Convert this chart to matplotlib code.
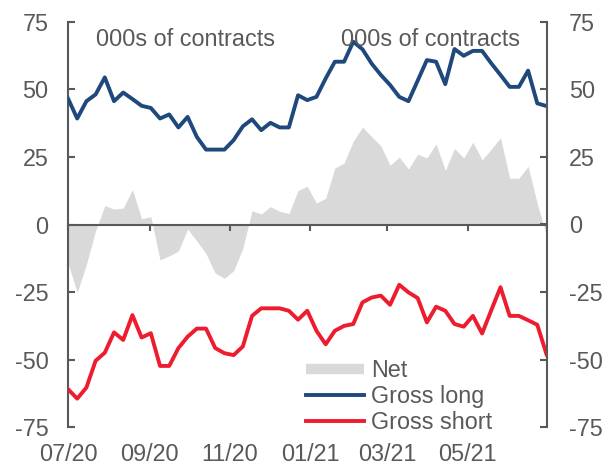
import pandas as pd
import numpy as np
import matplotlib
matplotlib.use('Agg')
import matplotlib.pyplot as plt
import matplotlib.dates as mdates
from matplotlib.lines import Line2D

plt.rcParams['font.family'] = ['Liberation Sans', 'DejaVu Sans']
plt.rcParams['axes.unicode_minus'] = False

# positions des contrats (milliers), hebdomadaire
dates = pd.date_range('2020-07-01', periods=53, freq='7D')

gross_long = [46.6, 39.2, 45.6, 48.1, 54.4, 45.6, 48.8, 46.4, 43.9, 43.1,
              39.2, 40.7, 35.9, 39.8, 32.4, 27.7, 27.7, 27.7, 31.2, 36.3,
              38.9, 34.9, 37.6, 35.9, 35.9, 47.8, 46.0, 47.2, 54.0, 60.2,
              60.2, 67.6, 64.8, 59.5, 55.3, 51.6, 47.2, 45.6, 53.2, 60.8,
              60.2, 51.9, 64.9, 62.4, 64.2, 64.2, 59.6, 55.3, 50.9, 50.9,
              56.9, 44.8, 43.8]

gross_short = [-60.9, -64.4, -60.3, -50.4, -47.4, -39.9, -42.7, -33.5, -41.8, -40.2,
               -52.3, -52.3, -45.7, -41.5, -38.5, -38.5, -45.7, -47.6, -48.3, -45.1,
               -33.8, -31.0, -31.0, -31.0, -31.9, -35.2, -31.9, -39.3, -44.3, -39.3,
               -37.5, -36.8, -28.8, -27.0, -26.3, -29.7, -22.3, -25.1, -27.2, -36.2,
               -30.4, -31.9, -36.8, -37.8, -33.8, -40.3, -31.7, -23.2, -33.8, -33.8,
               -35.4, -37.1, -48.0]

net = [-14.3, -25.2, -14.7, -2.3, 7.0, 5.7, 6.1, 12.9, 2.1, 2.9,
       -13.1, -11.6, -9.8, -1.7, -6.1, -10.8, -18.0, -19.9, -17.1, -8.8,
       5.1, 3.9, 6.6, 4.9, 4.0, 12.6, 14.1, 7.9, 9.7, 20.9,
       22.7, 30.8, 36.0, 32.5, 29.0, 21.9, 24.9, 20.5, 26.0, 24.6,
       29.8, 20.0, 28.1, 24.6, 30.4, 23.9, 27.9, 32.1, 17.1, 17.1,
       21.5, 7.7, -4.2]

y_ticks = [-75, -50, -25, 0, 25, 50, 75]

GRIS = '#595959'
BLEU = '#1F497D'
ROUGE = '#ED1C2E'
NET = '#D9D9D9'
FS = 16.8

fig = plt.figure(figsize=(6.15, 4.67), dpi=100)
ax = fig.add_axes([68 / 615, 1 - 427.3 / 467, (546.5 - 68) / 615, (427.3 - 21.7) / 467])

ax.fill_between(dates, net, 0, color=NET, lw=0, zorder=1)
ax.plot(dates, gross_long, color=BLEU, lw=2.8, zorder=4)
ax.plot(dates, gross_short, color=ROUGE, lw=2.8, zorder=4)

ax.set_xlim(dates[0], dates[-1])
ax.set_ylim(-75, 75)
ax.set_yticks(y_ticks)

mois = mdates.MonthLocator(bymonth=[1, 3, 5, 7, 9, 11])
ax.xaxis.set_major_locator(mois)

# axe des x sur la ligne du zéro, graduations vers le bas, sans étiquettes
for s in ['top', 'right']:
    ax.spines[s].set_visible(False)
ax.spines['bottom'].set_position(('data', 0))
ax.spines['bottom'].set_color(GRIS)
ax.spines['bottom'].set_linewidth(1.5)
ax.spines['left'].set_color(GRIS)
ax.spines['left'].set_linewidth(1.5)
ax.tick_params(axis='y', direction='in', length=5, width=1.5, color=GRIS,
               labelcolor=GRIS, labelsize=FS, pad=14)
ax.tick_params(axis='x', direction='out', length=4.5, width=1.5, color=GRIS,
               labelbottom=False)

# étiquettes des dates en bas
lab = ax.secondary_xaxis('bottom')
lab.xaxis.set_major_locator(mdates.MonthLocator(bymonth=[1, 3, 5, 7, 9, 11]))
lab.xaxis.set_major_formatter(mdates.DateFormatter('%m/%y'))
lab.spines['bottom'].set_visible(False)
lab.tick_params(axis='x', length=0, labelcolor=GRIS, labelsize=FS, pad=11)

# axe de droite
ax2 = ax.twinx()
ax2.set_ylim(-75, 75)
ax2.set_yticks(y_ticks)
for s in ['top', 'bottom', 'left']:
    ax2.spines[s].set_visible(False)
ax2.spines['right'].set_color(GRIS)
ax2.spines['right'].set_linewidth(1.5)
ax2.tick_params(axis='y', direction='in', length=5, width=1.5, color=GRIS,
                labelcolor=GRIS, labelsize=FS, pad=16)

fig.text(95.7 / 615, 1 - 45.7 / 467, '000s of contracts', color=GRIS, fontsize=FS, va='baseline')
fig.text(340.7 / 615, 1 - 45.7 / 467, '000s of contracts', color=GRIS, fontsize=FS, va='baseline')

handles = [Line2D([], [], color=NET, lw=7.5, solid_capstyle='butt'),
           Line2D([], [], color=BLEU, lw=2.8),
           Line2D([], [], color=ROUGE, lw=2.8)]
leg = ax.legend(handles, ['Net', 'Gross long', 'Gross short'], loc='upper left',
                bbox_to_anchor=(306 / 615, 1 - 359 / 467), bbox_transform=fig.transFigure,
                frameon=False, fontsize=FS, handlelength=2.5, handletextpad=0.3,
                labelspacing=0.13, borderpad=0, borderaxespad=0)
for t in leg.get_texts():
    t.set_color(GRIS)

fig.savefig('out.png', dpi=100)
